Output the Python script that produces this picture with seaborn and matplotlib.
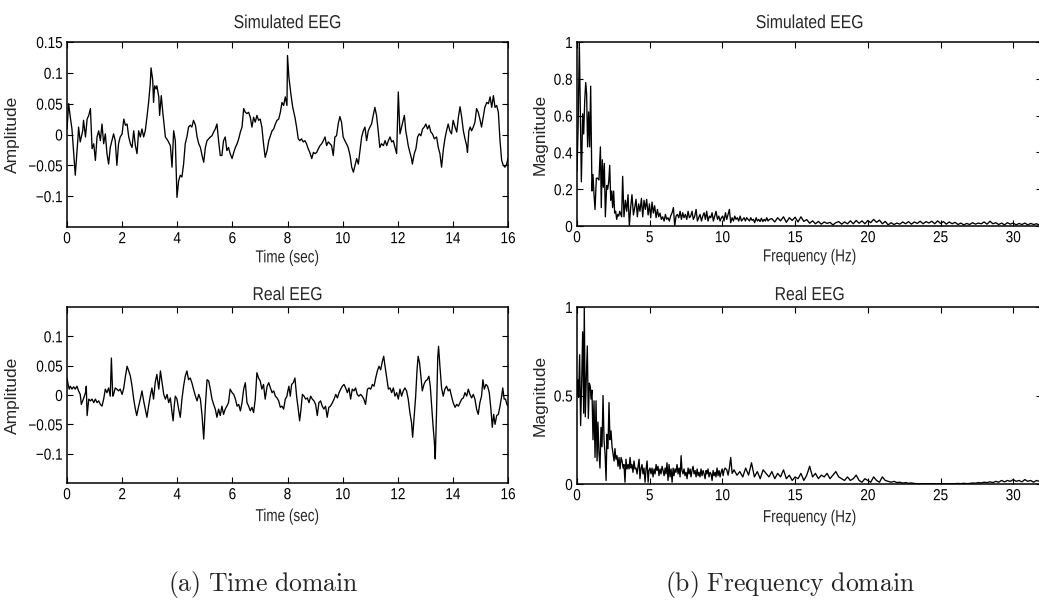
import matplotlib
matplotlib.use("Agg")
import matplotlib.pyplot as plt
from matplotlib.patheffects import AbstractPathEffect
from matplotlib.transforms import Affine2D
import numpy as np
import pandas as pd
import seaborn as sns

# ---------------------------------------------------------------- data
# Simulated EEG, time domain (seconds, amplitude)
sim_t = [
    0.00, 0.06, 0.12, 0.18, 0.30, 0.40, 0.42, 0.48, 0.57, 0.60,
    0.67, 0.73, 0.79, 0.85, 0.91, 0.97, 1.03, 1.09, 1.15, 1.21,
    1.27, 1.33, 1.39, 1.45, 1.51, 1.57, 1.63, 1.69, 1.75, 1.81,
    1.87, 1.93, 2.00, 2.06, 2.12, 2.18, 2.24, 2.30, 2.36, 2.42,
    2.48, 2.54, 2.60, 2.66, 2.72, 2.78, 2.84, 2.90, 2.96, 3.02,
    3.05, 3.11, 3.14, 3.18, 3.23, 3.26, 3.33, 3.36, 3.42, 3.48,
    3.57, 3.66, 3.75, 3.81, 3.87, 3.93, 3.99, 4.05, 4.11, 4.17,
    4.23, 4.29, 4.35, 4.41, 4.47, 4.53, 4.59, 4.66, 4.72, 4.78,
    4.84, 4.90, 4.96, 5.02, 5.08, 5.14, 5.20, 5.26, 5.32, 5.38,
    5.44, 5.50, 5.56, 5.62, 5.68, 5.74, 5.80, 5.86, 5.92, 5.99,
    6.05, 6.11, 6.17, 6.23, 6.29, 6.35, 6.41, 6.47, 6.53, 6.59,
    6.65, 6.71, 6.77, 6.83, 6.89, 6.95, 7.01, 7.07, 7.13, 7.19,
    7.26, 7.32, 7.38, 7.44, 7.50, 7.56, 7.62, 7.68, 7.74, 7.80,
    7.86, 7.92, 7.98, 8.00, 8.05, 8.13, 8.19, 8.27, 8.33, 8.39,
    8.45, 8.51, 8.57, 8.63, 8.69, 8.75, 8.81, 8.88, 8.94, 9.00,
    9.06, 9.12, 9.18, 9.24, 9.30, 9.36, 9.42, 9.48, 9.54, 9.60,
    9.66, 9.72, 9.78, 9.84, 9.90, 9.96, 10.02, 10.08, 10.14, 10.20,
    10.27, 10.33, 10.39, 10.45, 10.51, 10.57, 10.63, 10.69, 10.75, 10.81,
    10.87, 10.93, 10.99, 11.05, 11.11, 11.17, 11.23, 11.29, 11.35, 11.41,
    11.48, 11.54, 11.60, 11.66, 11.72, 11.78, 11.84, 11.90, 11.96, 12.02,
    12.08, 12.14, 12.20, 12.24, 12.29, 12.33, 12.38, 12.44, 12.50, 12.53,
    12.60, 12.66, 12.72, 12.78, 12.84, 12.90, 12.96, 13.02, 13.08, 13.14,
    13.20, 13.26, 13.33, 13.41, 13.47, 13.53, 13.59, 13.65, 13.71, 13.77,
    13.83, 13.89, 13.95, 14.01, 14.08, 14.14, 14.20, 14.26, 14.32, 14.38,
    14.44, 14.50, 14.53, 14.58, 14.63, 14.68, 14.74, 14.80, 14.86, 14.92,
    14.98, 15.04, 15.10, 15.16, 15.23, 15.29, 15.35, 15.41, 15.47, 15.53,
    15.59, 15.65, 15.71, 15.77, 15.83, 15.89, 15.95, 16.00,
]
sim_amp = [
    0.009, 0.050, 0.028, 0.009, -0.066, -0.004, 0.012, -0.012, 0.006, 0.023,
    -0.004, 0.025, 0.031, 0.042, -0.023, -0.015, -0.042, -0.004, 0.006, -0.010,
    0.017, -0.015, 0.001, -0.031, -0.048, -0.021, -0.010, 0.001, -0.010, -0.050,
    -0.015, -0.004, 0.001, 0.025, 0.015, 0.017, -0.004, -0.015, -0.021, 0.006,
    -0.018, -0.031, 0.006, -0.004, 0.009, -0.004, 0.006, 0.028, 0.052, 0.082,
    0.108, 0.088, 0.052, 0.079, 0.074, 0.079, 0.061, 0.031, 0.063, 0.034,
    -0.004, -0.010, -0.018, -0.053, 0.006, -0.010, -0.102, -0.075, -0.066, -0.069,
    -0.048, -0.015, -0.004, 0.012, 0.015, 0.012, 0.023, 0.015, -0.004, -0.015,
    -0.021, -0.034, -0.045, -0.021, -0.010, -0.007, -0.004, -0.002, 0.004, 0.009,
    0.017, -0.010, -0.034, -0.034, -0.010, -0.004, -0.026, -0.021, -0.031, -0.039,
    -0.029, -0.021, -0.015, -0.007, 0.004, 0.012, 0.042, 0.036, 0.034, 0.036,
    0.028, 0.012, 0.028, 0.020, 0.031, 0.023, 0.025, 0.012, -0.015, -0.037,
    -0.026, -0.010, -0.002, 0.006, 0.009, 0.017, 0.023, 0.025, 0.036, 0.052,
    0.047, 0.061, 0.047, 0.128, 0.093, 0.063, 0.044, 0.028, 0.012, -0.007,
    -0.010, -0.007, -0.012, -0.010, -0.015, -0.023, -0.029, -0.039, -0.029, -0.031,
    -0.029, -0.023, -0.018, -0.015, -0.010, -0.004, -0.018, -0.012, -0.015, -0.018,
    -0.034, -0.004, -0.002, 0.017, 0.029, 0.020, -0.004, -0.010, -0.015, -0.021,
    -0.034, -0.053, -0.061, -0.050, -0.039, -0.048, -0.026, -0.004, 0.006, 0.012,
    -0.010, 0.006, 0.012, 0.017, 0.031, 0.044, 0.031, 0.006, -0.021, -0.015,
    -0.018, -0.010, -0.018, -0.010, -0.004, -0.012, -0.010, -0.021, -0.031, 0.069,
    0.001, 0.012, 0.023, 0.031, 0.006, -0.004, -0.018, -0.029, -0.039, -0.048,
    -0.031, -0.023, -0.004, 0.001, -0.002, 0.009, 0.012, 0.017, 0.009, 0.015,
    0.004, 0.001, -0.007, -0.004, -0.021, -0.031, -0.053, -0.026, -0.007, 0.006,
    0.017, 0.006, 0.001, 0.023, 0.012, 0.004, 0.028, 0.045, 0.028, 0.006,
    -0.007, -0.018, -0.029, 0.006, 0.012, 0.006, 0.012, 0.020, 0.042, 0.036,
    0.025, 0.012, 0.028, 0.044, 0.052, 0.050, 0.061, 0.044, 0.063, 0.044,
    0.047, 0.036, -0.010, -0.042, -0.050, -0.053, -0.048, -0.039,
]

# Real EEG, time domain (seconds, amplitude)
real_t = [
    0.00, 0.04, 0.08, 0.12, 0.18, 0.24, 0.30, 0.36, 0.42, 0.48,
    0.52, 0.57, 0.63, 0.67, 0.70, 0.73, 0.79, 0.85, 0.91, 0.97,
    1.03, 1.09, 1.15, 1.21, 1.27, 1.33, 1.39, 1.45, 1.51, 1.57,
    1.61, 1.66, 1.69, 1.75, 1.81, 1.87, 1.93, 2.00, 2.06, 2.12,
    2.18, 2.24, 2.30, 2.36, 2.42, 2.48, 2.53, 2.60, 2.66, 2.72,
    2.78, 2.84, 2.90, 2.96, 3.02, 3.08, 3.14, 3.20, 3.26, 3.33,
    3.39, 3.45, 3.51, 3.57, 3.63, 3.69, 3.75, 3.81, 3.85, 3.89,
    3.93, 3.99, 4.05, 4.11, 4.17, 4.23, 4.29, 4.35, 4.41, 4.47,
    4.53, 4.59, 4.66, 4.72, 4.78, 4.84, 4.90, 4.96, 5.02, 5.08,
    5.14, 5.20, 5.26, 5.32, 5.38, 5.44, 5.50, 5.56, 5.62, 5.68,
    5.74, 5.80, 5.86, 5.92, 5.99, 6.05, 6.11, 6.17, 6.23, 6.29,
    6.35, 6.41, 6.47, 6.53, 6.59, 6.65, 6.71, 6.77, 6.83, 6.89,
    6.95, 7.01, 7.07, 7.13, 7.19, 7.26, 7.32, 7.38, 7.44, 7.50,
    7.56, 7.62, 7.68, 7.74, 7.80, 7.86, 7.92, 7.98, 8.00, 8.05,
    8.10, 8.15, 8.21, 8.27, 8.33, 8.39, 8.44, 8.49, 8.54, 8.60,
    8.66, 8.72, 8.78, 8.84, 8.90, 8.96, 9.02, 9.08, 9.14, 9.20,
    9.26, 9.32, 9.38, 9.44, 9.50, 9.56, 9.63, 9.69, 9.75, 9.81,
    9.87, 9.93, 9.99, 10.05, 10.11, 10.17, 10.23, 10.29, 10.35, 10.41,
    10.47, 10.53, 10.59, 10.65, 10.71, 10.77, 10.83, 10.90, 10.96, 11.02,
    11.08, 11.14, 11.20, 11.26, 11.32, 11.38, 11.44, 11.49, 11.53, 11.60,
    11.66, 11.72, 11.78, 11.84, 11.90, 11.96, 12.02, 12.08, 12.14, 12.20,
    12.26, 12.32, 12.38, 12.44, 12.50, 12.54, 12.59, 12.65, 12.70, 12.74,
    12.79, 12.84, 12.89, 12.95, 13.01, 13.07, 13.13, 13.18, 13.23, 13.28,
    13.33, 13.36, 13.41, 13.45, 13.48, 13.53, 13.59, 13.65, 13.71, 13.77,
    13.83, 13.89, 13.95, 14.01, 14.08, 14.14, 14.20, 14.26, 14.32, 14.38,
    14.44, 14.50, 14.56, 14.62, 14.68, 14.74, 14.80, 14.86, 14.92, 14.98,
    15.04, 15.09, 15.14, 15.20, 15.26, 15.32, 15.38, 15.43, 15.48, 15.53,
    15.59, 15.65, 15.71, 15.77, 15.81, 15.86, 15.91, 15.96, 16.00,
]
real_amp = [
    0.029, 0.018, 0.010, 0.015, 0.010, 0.014, 0.010, 0.015, 0.007, 0.001,
    -0.016, -0.010, -0.002, 0.004, 0.015, -0.035, -0.007, -0.010, -0.007, -0.013,
    -0.007, -0.013, -0.010, -0.016, -0.019, -0.007, 0.010, 0.004, 0.012, -0.002,
    0.063, -0.002, 0.001, 0.012, 0.010, 0.007, 0.010, 0.001, 0.012, 0.032,
    0.049, 0.041, 0.032, 0.015, -0.007, -0.024, -0.035, -0.019, -0.007, 0.007,
    -0.010, -0.024, -0.038, -0.019, -0.002, 0.012, -0.007, 0.021, 0.035, 0.010,
    0.041, 0.021, 0.001, -0.007, 0.001, -0.013, -0.005, -0.030, -0.044, -0.019,
    -0.002, -0.007, -0.024, -0.038, -0.007, 0.015, 0.032, 0.041, 0.026, 0.029,
    0.021, 0.010, -0.002, -0.010, 0.001, -0.007, -0.035, -0.075, -0.019, 0.026,
    0.024, 0.010, -0.007, -0.016, -0.024, -0.038, -0.024, -0.035, -0.019, -0.033,
    -0.024, -0.019, -0.013, 0.010, 0.004, 0.001, -0.007, -0.019, -0.016, -0.027,
    -0.013, 0.010, 0.021, -0.013, -0.019, -0.027, -0.021, -0.030, -0.007, 0.038,
    0.029, 0.024, 0.010, 0.018, -0.007, 0.015, 0.021, 0.012, 0.004, 0.007,
    -0.002, -0.005, -0.010, -0.021, -0.019, -0.024, -0.007, -0.002, 0.004, 0.015,
    -0.002, 0.018, 0.021, 0.029, -0.002, -0.024, -0.044, -0.024, 0.001, -0.002,
    -0.007, -0.005, -0.013, -0.002, -0.007, -0.010, -0.016, -0.035, -0.013, -0.010,
    -0.019, -0.024, -0.019, -0.038, -0.021, -0.019, -0.013, -0.007, 0.001, -0.005,
    0.004, 0.010, 0.015, 0.018, 0.012, 0.004, 0.012, -0.007, 0.010, 0.007,
    0.012, 0.001, -0.002, 0.001, -0.002, -0.007, -0.016, 0.010, 0.012, 0.010,
    0.018, 0.015, 0.029, 0.041, 0.049, 0.043, 0.057, 0.066, 0.052, 0.029,
    0.010, 0.012, 0.004, 0.012, -0.002, 0.004, -0.007, 0.010, -0.002, 0.007,
    0.012, 0.007, -0.007, -0.030, -0.047, -0.072, -0.041, -0.002, 0.043, 0.066,
    0.055, 0.032, 0.007, 0.018, 0.024, 0.026, 0.032, 0.015, -0.019, -0.052,
    -0.081, -0.109, -0.024, 0.063, 0.083, 0.049, 0.012, -0.002, 0.010, 0.015,
    0.007, 0.010, -0.002, -0.013, -0.021, -0.016, -0.019, -0.013, -0.007, -0.005,
    0.004, -0.002, 0.010, 0.001, -0.005, 0.001, -0.007, -0.024, -0.033, -0.013,
    -0.002, 0.026, 0.010, 0.018, 0.015, 0.004, -0.024, -0.055, -0.033, -0.050,
    -0.035, -0.033, -0.019, -0.002, 0.012, -0.007, -0.007, -0.016, -0.019,
]

# Simulated EEG, normalised magnitude spectrum (Hz, magnitude)
sim_f = [
    0.00, 0.08, 0.16, 0.30, 0.39, 0.46, 0.53, 0.60, 0.66, 0.73,
    0.80, 0.87, 0.94, 1.03, 1.10, 1.17, 1.24, 1.33, 1.42, 1.51,
    1.61, 1.67, 1.74, 1.81, 1.88, 1.95, 2.04, 2.11, 2.18, 2.25,
    2.32, 2.39, 2.45, 2.52, 2.59, 2.66, 2.73, 2.80, 2.87, 2.94,
    3.07, 3.14, 3.23, 3.33, 3.42, 3.51, 3.60, 3.69, 3.78, 3.88,
    3.97, 4.06, 4.15, 4.24, 4.33, 4.43, 4.52, 4.61, 4.70, 4.79,
    4.89, 4.98, 5.07, 5.16, 5.25, 5.34, 5.44, 5.53, 5.62, 5.71,
    5.80, 5.89, 5.99, 6.08, 6.17, 6.26, 6.35, 6.44, 6.54, 6.63,
    6.72, 6.81, 6.90, 7.00, 7.09, 7.18, 7.27, 7.36, 7.45, 7.55,
    7.64, 7.73, 7.82, 7.91, 8.00, 8.10, 8.19, 8.28, 8.37, 8.46,
    8.56, 8.65, 8.74, 8.83, 8.92, 9.01, 9.11, 9.20, 9.29, 9.38,
    9.47, 9.56, 9.66, 9.75, 9.84, 9.93, 10.02, 10.11, 10.21, 10.30,
    10.39, 10.48, 10.57, 10.67, 10.76, 10.85, 10.94, 11.03, 11.12, 11.22,
    11.31, 11.40, 11.49, 11.58, 11.67, 11.77, 11.86, 11.95, 12.04, 12.13,
    12.22, 12.32, 12.41, 12.50, 12.59, 12.68, 12.78, 12.87, 12.96, 13.05,
    13.14, 13.23, 13.4, 13.6, 13.8, 14.0, 14.2, 14.4, 14.6, 14.8,
    15.0, 15.2, 15.4, 15.6, 15.8, 16.0, 16.2, 16.4, 16.6, 16.8,
    17.0, 17.2, 17.4, 17.6, 17.8, 18.0, 18.2, 18.4, 18.6, 18.8,
    19.0, 19.2, 19.4, 19.6, 19.8, 20.0, 20.2, 20.4, 20.6, 20.8,
    21.0, 21.2, 21.4, 21.6, 21.8, 22.0, 22.2, 22.4, 22.6, 22.8,
    23.0, 23.2, 23.4, 23.6, 23.8, 24.0, 24.2, 24.4, 24.6, 24.8,
    25.0, 25.2, 25.4, 25.6, 25.8, 26.0, 26.2, 26.4, 26.6, 26.8,
    27.0, 27.2, 27.4, 27.6, 27.8, 28.0, 28.2, 28.4, 28.6, 28.8,
    29.0, 29.2, 29.4, 29.6, 29.8, 30.0, 30.2, 30.4, 30.6, 30.8,
    31.0, 31.2, 31.4, 31.6, 31.8, 32.0,
]
sim_mag = [
    0.30, 0.55, 1.00, 0.24, 0.61, 0.50, 0.68, 0.78, 0.72, 0.43,
    0.62, 0.43, 0.76, 0.19, 0.28, 0.17, 0.09, 0.26, 0.26, 0.25,
    0.43, 0.10, 0.36, 0.21, 0.34, 0.05, 0.22, 0.20, 0.24, 0.33,
    0.14, 0.19, 0.10, 0.19, 0.07, 0.08, 0.036, 0.063, 0.054, 0.08,
    0.05, 0.27, 0.05, 0.14, 0.08, 0.17, 0.00, 0.10, 0.17, 0.06,
    0.10, 0.145, 0.05, 0.12, 0.08, 0.15, 0.05, 0.14, 0.09, 0.145,
    0.06, 0.12, 0.045, 0.13, 0.07, 0.11, 0.045, 0.09, 0.05, 0.07,
    0.036, 0.05, 0.027, 0.063, 0.036, 0.045, 0.027, 0.054, 0.072, 0.10,
    0.00, 0.054, 0.063, 0.045, 0.08, 0.036, 0.072, 0.045, 0.063, 0.036,
    0.08, 0.045, 0.054, 0.08, 0.036, 0.054, 0.09, 0.027, 0.045, 0.063,
    0.027, 0.054, 0.072, 0.036, 0.08, 0.027, 0.054, 0.045, 0.072, 0.027,
    0.054, 0.08, 0.036, 0.054, 0.027, 0.045, 0.054, 0.027, 0.072, 0.036,
    0.063, 0.09, 0.018, 0.045, 0.027, 0.054, 0.036, 0.045, 0.027, 0.054,
    0.027, 0.036, 0.045, 0.027, 0.045, 0.036, 0.027, 0.045, 0.031, 0.036,
    0.018, 0.045, 0.027, 0.036, 0.024, 0.042, 0.024, 0.036, 0.027, 0.045,
    0.027, 0.036, 0.040, 0.022, 0.045, 0.028, 0.050, 0.020, 0.045, 0.030,
    0.048, 0.022, 0.050, 0.025, 0.035, 0.015, 0.028, 0.012, 0.025, 0.010,
    0.022, 0.014, 0.020, 0.006, 0.018, 0.024, 0.010, 0.022, 0.012, 0.028,
    0.012, 0.030, 0.015, 0.028, 0.012, 0.030, 0.018, 0.036, 0.020, 0.032,
    0.012, 0.025, 0.006, 0.018, 0.008, 0.016, 0.010, 0.022, 0.012, 0.024,
    0.010, 0.022, 0.014, 0.026, 0.012, 0.024, 0.016, 0.026, 0.012, 0.028,
    0.014, 0.024, 0.010, 0.022, 0.012, 0.020, 0.008, 0.016, 0.006, 0.014,
    0.008, 0.018, 0.010, 0.016, 0.012, 0.022, 0.010, 0.026, 0.012, 0.018,
    0.008, 0.016, 0.006, 0.018, 0.010, 0.016, 0.006, 0.014, 0.008, 0.016,
    0.006, 0.014, 0.008, 0.012, 0.006, 0.010,
]

# Real EEG, normalised magnitude spectrum (Hz, magnitude)
real_f = [
    0.00, 0.05, 0.11, 0.18, 0.25, 0.32, 0.39, 0.46, 0.50, 0.57,
    0.64, 0.71, 0.78, 0.85, 0.92, 0.96, 1.03, 1.10, 1.17, 1.24,
    1.31, 1.38, 1.44, 1.51, 1.58, 1.65, 1.72, 1.79, 1.86, 1.93,
    2.00, 2.06, 2.13, 2.20, 2.27, 2.34, 2.41, 2.48, 2.55, 2.61,
    2.68, 2.75, 2.82, 2.89, 2.96, 3.03, 3.10, 3.17, 3.23, 3.30,
    3.37, 3.44, 3.51, 3.58, 3.65, 3.72, 3.78, 3.85, 3.92, 3.99,
    4.06, 4.13, 4.20, 4.27, 4.33, 4.40, 4.47, 4.54, 4.61, 4.68,
    4.75, 4.82, 4.89, 4.95, 5.02, 5.09, 5.16, 5.23, 5.30, 5.37,
    5.44, 5.50, 5.57, 5.64, 5.71, 5.78, 5.85, 5.92, 5.99, 6.06,
    6.12, 6.19, 6.26, 6.33, 6.40, 6.47, 6.54, 6.61, 6.67, 6.74,
    6.81, 6.88, 6.95, 7.02, 7.09, 7.16, 7.22, 7.29, 7.36, 7.43,
    7.50, 7.57, 7.64, 7.71, 7.78, 7.84, 7.91, 7.98, 8.05, 8.12,
    8.19, 8.26, 8.33, 8.39, 8.46, 8.53, 8.60, 8.67, 8.74, 8.81,
    8.88, 8.94, 9.01, 9.08, 9.15, 9.22, 9.29, 9.36, 9.43, 9.50,
    9.56, 9.63, 9.70, 9.77, 9.84, 9.91, 9.98, 10.05, 10.11, 10.18,
    10.30, 10.39, 10.48, 10.57, 10.67, 10.8, 11.0, 11.2, 11.4, 11.6,
    11.8, 12.0, 12.2, 12.4, 12.6, 12.8, 13.0, 13.2, 13.4, 13.6,
    13.8, 14.0, 14.2, 14.4, 14.6, 14.8, 15.0, 15.2, 15.4, 15.6,
    15.8, 16.0, 16.2, 16.4, 16.6, 16.8, 17.0, 17.2, 17.4, 17.6,
    17.8, 18.0, 18.2, 18.4, 18.6, 18.8, 19.0, 19.2, 19.4, 19.6,
    19.8, 20.0, 20.2, 20.4, 20.6, 20.8, 21.0, 21.2, 21.4, 21.6,
    21.8, 22.0, 22.2, 22.4, 22.6, 22.8, 23.0, 23.2, 23.4, 23.6,
    23.8, 24.0, 24.2, 24.4, 24.6, 24.8, 25.0, 25.2, 25.4, 25.6,
    25.8, 26.0, 26.2, 26.4, 26.6, 26.8, 27.0, 27.2, 27.4, 27.6,
    27.8, 28.0, 28.2, 28.4, 28.6, 28.8, 29.0, 29.2, 29.4, 29.6,
    29.8, 30.0, 30.2, 30.4, 30.6, 30.8, 31.0, 31.2, 31.4, 31.6,
    31.8, 32.0,
]
real_mag = [
    0.50, 0.59, 0.49, 0.73, 0.33, 0.57, 0.86, 0.40, 1.00, 0.38,
    0.60, 0.78, 0.37, 0.57, 0.55, 0.48, 0.53, 0.25, 0.47, 0.15,
    0.47, 0.13, 0.35, 0.18, 0.09, 0.32, 0.21, 0.50, 0.25, 0.17,
    0.02, 0.28, 0.20, 0.46, 0.25, 0.30, 0.21, 0.17, 0.13, 0.20,
    0.14, 0.16, 0.10, 0.15, 0.085, 0.15, 0.13, 0.09, 0.11, 0.01,
    0.14, 0.085, 0.11, 0.085, 0.15, 0.09, 0.11, 0.066, 0.13, 0.085,
    0.09, 0.057, 0.10, 0.14, 0.03, 0.085, 0.11, 0.057, 0.09, 0.01,
    0.085, 0.13, 0.01, 0.076, 0.09, 0.057, 0.09, 0.04, 0.085, 0.057,
    0.11, 0.076, 0.10, 0.047, 0.085, 0.057, 0.10, 0.076, 0.047, 0.09,
    0.057, 0.12, 0.02, 0.11, 0.04, 0.085, 0.01, 0.09, 0.047, 0.085,
    0.066, 0.11, 0.057, 0.09, 0.04, 0.16, 0.076, 0.057, 0.085, 0.047,
    0.066, 0.03, 0.09, 0.057, 0.085, 0.04, 0.076, 0.10, 0.057, 0.076,
    0.04, 0.085, 0.047, 0.066, 0.04, 0.085, 0.047, 0.076, 0.057, 0.03,
    0.076, 0.057, 0.085, 0.04, 0.066, 0.057, 0.02, 0.076, 0.047, 0.066,
    0.04, 0.09, 0.047, 0.076, 0.04, 0.066, 0.085, 0.047, 0.076, 0.09,
    0.08, 0.05, 0.09, 0.15, 0.06, 0.08, 0.05, 0.07, 0.04, 0.09,
    0.05, 0.12, 0.04, 0.07, 0.03, 0.08, 0.06, 0.04, 0.07, 0.03,
    0.06, 0.04, 0.08, 0.03, 0.05, 0.02, 0.04, 0.03, 0.06, 0.02,
    0.05, 0.10, 0.04, 0.06, 0.03, 0.05, 0.04, 0.06, 0.03, 0.05,
    0.07, 0.04, 0.03, 0.02, 0.04, 0.02, 0.03, 0.05, 0.02, 0.01,
    0.03, 0.02, 0.01, 0.04, 0.02, 0.01, 0.04, 0.02, 0.015, 0.01,
    0.015, 0.008, 0.01, 0.005, 0.008, 0.004, 0.006, 0.003, 0.002, 0.001,
    0.002, 0.001, 0.002, 0.001, 0.002, 0.001, 0.002, 0.001, 0.001, 0.002,
    0.001, 0.002, 0.003, 0.002, 0.004, 0.002, 0.003, 0.006, 0.004, 0.008,
    0.006, 0.010, 0.008, 0.012, 0.008, 0.015, 0.010, 0.020, 0.012, 0.020,
    0.015, 0.025, 0.015, 0.020, 0.012, 0.025, 0.015, 0.020, 0.010, 0.020,
    0.015, 0.020,
]

panel_titles = ["Simulated EEG", "Real EEG"]
captions = [r"$\mathrm{(a)\ Time\ domain}$", r"$\mathrm{(b)\ Frequency\ domain}$"]


# ---------------------------------------------------------------- style
class Squeeze(AbstractPathEffect):
    """Draw text glyphs narrowed horizontally about a chosen anchor."""

    def __init__(self, sx, anchor="center"):
        super().__init__()
        self.sx = sx
        self.anchor = anchor

    def draw_path(self, renderer, gc, tpath, affine, rgbFace=None):
        ext = tpath.get_extents()
        if self.anchor == "right":
            x0 = ext.x1
        elif self.anchor == "left":
            x0 = ext.x0
        else:
            x0 = 0.5 * (ext.x0 + ext.x1)
        squeeze = Affine2D().translate(-x0, 0).scale(self.sx, 1.0).translate(x0, 0)
        renderer.draw_path(gc, tpath, squeeze + affine, rgbFace)


sns.set_style("ticks")
plt.rcParams["font.family"] = ["Liberation Sans", "DejaVu Sans"]
plt.rcParams["mathtext.fontset"] = "cm"
plt.rcParams["axes.unicode_minus"] = True

W, H = 1039, 601
fig = plt.figure(figsize=(W / 100, H / 100), dpi=100)
fig.patch.set_facecolor("white")


def add_axes_px(left, top, right, bottom):
    return fig.add_axes([left / W, 1 - bottom / H, (right - left) / W, (bottom - top) / H])


def draw(ax, x, y):
    df = pd.DataFrame({"x": x, "y": y})
    sns.lineplot(data=df, x="x", y="y", ax=ax, color="black", linewidth=0.95,
                 estimator=None, sort=False, legend=False)


def finish(ax, title, title_pad, xlabel, xlabel_pad, ylabel, ylabel_x):
    ax.set_facecolor("white")
    for sp in ax.spines.values():
        sp.set_visible(True)
        sp.set_color("black")
        sp.set_linewidth(1.1)
    ax.tick_params(direction="in", length=4.5, width=0.8, top=True, right=True,
                   labelsize=11.5, colors="black", pad=3)
    ax.grid(False)
    ax.set_title(title, fontsize=13.5, pad=title_pad)
    ax.set_xlabel(xlabel, fontsize=12.5, labelpad=xlabel_pad)
    ax.set_ylabel(ylabel, fontsize=12.5, family="Liberation Sans")
    ax.yaxis.set_label_coords(ylabel_x, 0.5)
    ax.title.set_path_effects([Squeeze(0.84)])
    ax.xaxis.label.set_path_effects([Squeeze(0.78)])
    for lab in ax.get_xticklabels():
        lab.set_path_effects([Squeeze(0.85)])
    for lab in ax.get_yticklabels():
        lab.set_path_effects([Squeeze(0.85, "right")])


# top-left: simulated, time
ax1 = add_axes_px(67, 42, 508, 227)
draw(ax1, sim_t, sim_amp)
ax1.set_xlim(0, 16)
ax1.set_ylim(-0.15, 0.15)
ax1.set_xticks(np.arange(0, 17, 2))
ax1.set_yticks([-0.1, -0.05, 0, 0.05, 0.1, 0.15])
ax1.set_yticklabels(["\u22120.1", "\u22120.05", "0", "0.05", "0.1", "0.15"])
finish(ax1, panel_titles[0], 10, "Time (sec)", 3, "Amplitude", -0.106)

# bottom-left: real, time
ax3 = add_axes_px(67, 307, 508, 483)
draw(ax3, real_t, real_amp)
ax3.set_xlim(0, 16)
ax3.set_ylim(-0.15, 0.15)
ax3.set_xticks(np.arange(0, 17, 2))
ax3.set_yticks([-0.1, -0.05, 0, 0.05, 0.1])
ax3.set_yticklabels(["\u22120.1", "\u22120.05", "0", "0.05", "0.1"])
finish(ax3, panel_titles[1], 5, "Time (sec)", 5, "Amplitude", -0.106)

# top-right: simulated, frequency
ax2 = add_axes_px(577, 42, 1042.3, 226)
draw(ax2, sim_f, sim_mag)
ax2.set_xlim(0, 32)
ax2.set_ylim(0, 1)
ax2.set_xticks(np.arange(0, 31, 5))
ax2.set_yticks([0, 0.2, 0.4, 0.6, 0.8, 1])
ax2.set_yticklabels(["0", "0.2", "0.4", "0.6", "0.8", "1"])
finish(ax2, panel_titles[0], 10, "Frequency (Hz)", 3, "Magnitude", -0.063)

# bottom-right: real, frequency
ax4 = add_axes_px(577, 307, 1042.3, 484)
draw(ax4, real_f, real_mag)
ax4.set_xlim(0, 32)
ax4.set_ylim(0, 1)
ax4.set_xticks(np.arange(0, 31, 5))
ax4.set_yticks([0, 0.5, 1])
ax4.set_yticklabels(["0", "0.5", "1"])
finish(ax4, panel_titles[1], 5, "Frequency (Hz)", 5, "Magnitude", -0.063)

fig.text(263 / W, 1 - 585 / H, captions[0], ha="center", va="center", fontsize=18.5)
fig.text(790 / W, 1 - 585 / H, captions[1], ha="center", va="center", fontsize=18.5)

fig.savefig("out.png", dpi=100, facecolor="white")
